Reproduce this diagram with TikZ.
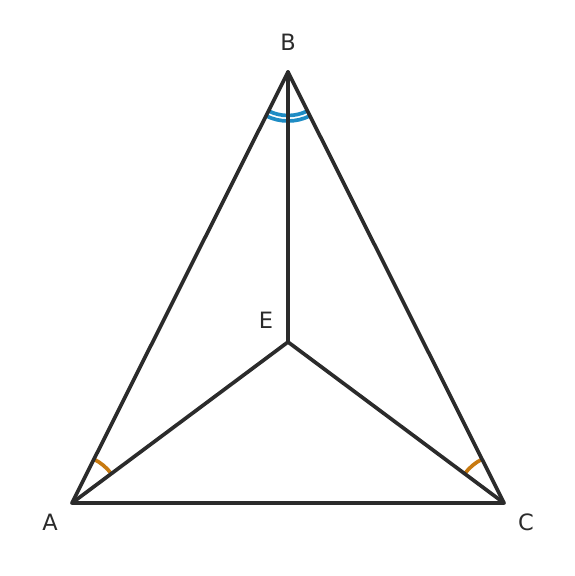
\documentclass[tikz,border=0pt]{standalone}
\usepackage{fontspec}
\setmainfont{DejaVu Sans}
\usetikzlibrary{angles}
\definecolor{edgegray}{RGB}{43,43,43}
\definecolor{markblue}{RGB}{30,140,196}
\definecolor{markorange}{RGB}{200,122,16}
\tikzset{
    edge/.style={draw=edgegray, line width=1.05pt, line cap=round, line join=round},
    ptlabel/.style={text=edgegray, font=\fontsize{6.4}{7}\selectfont, inner sep=0pt},
    markA/.style={draw=markorange, line width=1.05pt, angle radius=0.49cm},
    markB/.style={draw=markblue, line width=1.05pt}
}
\begin{document}
\begin{tikzpicture}
            \useasboundingbox (0, 0) rectangle (5.75, -5.76);
            \coordinate (A) at (0.72, -5.03);
            \coordinate (B) at (2.88, -0.72);
            \coordinate (C) at (5.04, -5.03);
            \coordinate (E) at (2.88, -3.42);
            % angle marks
            \pic[markA] {angle = E--A--B};
            \pic[markA] {angle = B--C--E};
            \pic[markB, angle radius=0.435cm] {angle = A--B--C};
            \pic[markB, angle radius=0.49cm] {angle = A--B--C};
            % triangle and segments to E
            \draw[edge] (A) -- (B) -- (C) -- cycle;
            \draw[edge] (B) -- (E);
            \draw[edge] (A) -- (E) -- (C);
            \node[ptlabel] (labB) at (2.88, -0.42) {B};
            \node[ptlabel] (labE) at (2.66, -3.20) {E};
            \node[ptlabel] (labA) at (0.50, -5.22) {A};
            \node[ptlabel] (labC) at (5.26, -5.22) {C};
        \end{tikzpicture}
\end{document}
